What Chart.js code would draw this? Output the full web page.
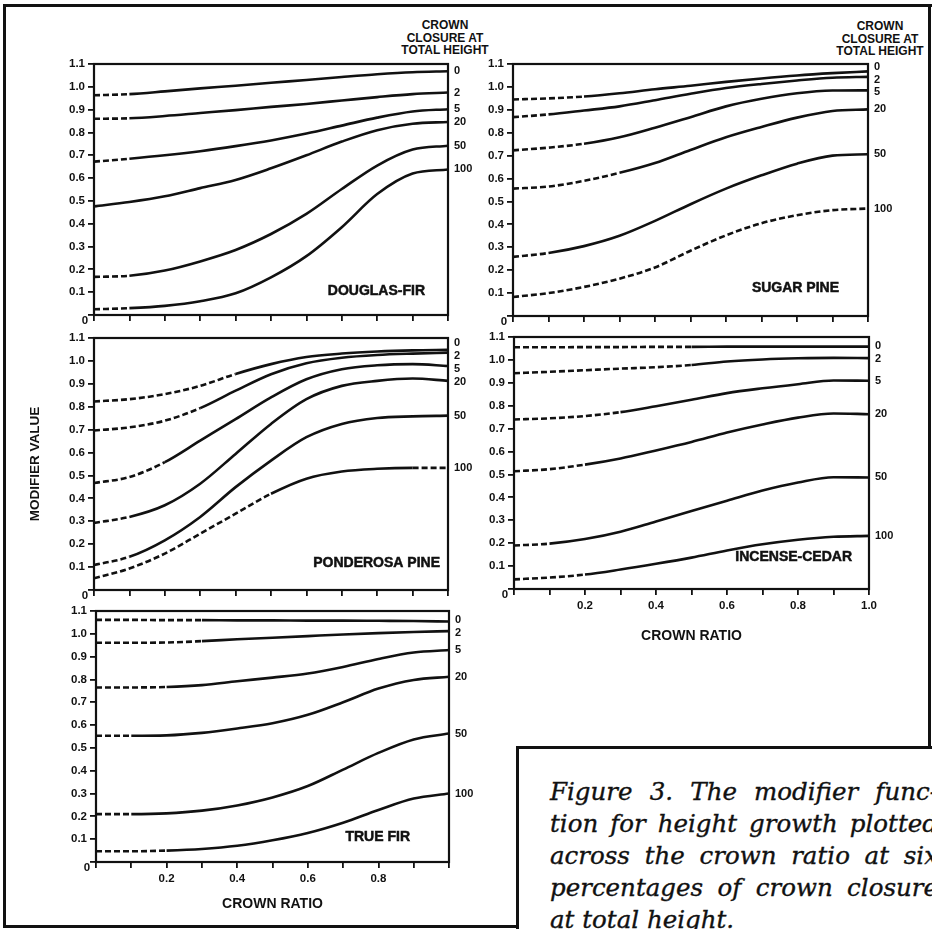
<!DOCTYPE html>
<html>
<head>
<meta charset="utf-8">
<script src="https://cdn.jsdelivr.net/npm/chart.js@4.4.1/dist/chart.umd.min.js"></script>
<style>
  html, body { margin:0; padding:0; background:#fff; width:932px; height:929px; overflow:hidden; }
  body { position:relative; font-family:'Liberation Sans', Arial, Helvetica, sans-serif; color:#111; }
  canvas { position:absolute; }
  .ln { position:absolute; background:#111; }
  .hdr { position:absolute; width:120px; text-align:center; font:bold 12px/12.5px 'Liberation Sans', Arial, sans-serif; color:#111; }
  .cap { position:absolute; left:550px; top:776px; width:388px; font-family:'DejaVu Serif', serif; font-style:italic; font-size:24.5px; color:#111; -webkit-text-stroke:0.35px #111; }
  .cap div { height:32px; line-height:32px; text-align:justify; text-align-last:justify; white-space:nowrap; overflow:visible; }
  .cap div.last { text-align:left; text-align-last:left; }
</style>
</head>
<body>
<div class="ln" style="left:3px;top:4px;width:929px;height:3px"></div>
<div class="ln" style="left:3px;top:4px;width:3px;height:924px"></div>
<div class="ln" style="left:928px;top:4px;width:3px;height:745px"></div>
<div class="ln" style="left:516px;top:746px;width:416px;height:3px"></div>
<div class="ln" style="left:516px;top:746px;width:3px;height:183px"></div>
<div class="ln" style="left:3px;top:925px;width:516px;height:3px"></div>

<div class="hdr" style="left:385px;top:19px">CROWN<br>CLOSURE AT<br>TOTAL HEIGHT</div>
<div class="hdr" style="left:820px;top:20px">CROWN<br>CLOSURE AT<br>TOTAL HEIGHT</div>

<div class="cap">
  <div>Figure 3. The modifier func-</div>
  <div>tion for height growth plotted</div>
  <div>across the crown ratio at six</div>
  <div>percentages of crown closure</div>
  <div class="last">at total height.</div>
</div>

<script>
// ---------- DATA ----------
const crownRatio = [0, 0.1, 0.2, 0.3, 0.4, 0.5, 0.6, 0.7, 0.8, 0.9, 1.0];
const closureLevels = ['0', '2', '5', '20', '50', '100'];
const yTickValues = [0, 0.1, 0.2, 0.3, 0.4, 0.5, 0.6, 0.7, 0.8, 0.9, 1.0, 1.1];
const yTickLabels = ['0', '0.1', '0.2', '0.3', '0.4', '0.5', '0.6', '0.7', '0.8', '0.9', '1.0', '1.1'];
const xTickLabelsNone = ['', '', '', '', '', '', '', '', '', '', ''];
const xTickLabelsCedar = ['', '', '0.2', '', '0.4', '', '0.6', '', '0.8', '', '1.0'];
const xTickLabelsFir = ['', '', '0.2', '', '0.4', '', '0.6', '', '0.8', '', ''];
const speciesNames = ['DOUGLAS-FIR', 'SUGAR PINE', 'PONDEROSA PINE', 'INCENSE-CEDAR', 'TRUE FIR'];

// modifier values, one row per crown-closure level (0,2,5,20,50,100)
const douglasFir = [
  [0.963, 0.968, 0.980, 0.993, 1.005, 1.018, 1.030, 1.043, 1.055, 1.064, 1.068],
  [0.860, 0.862, 0.872, 0.885, 0.898, 0.912, 0.925, 0.940, 0.955, 0.968, 0.975],
  [0.672, 0.685, 0.700, 0.718, 0.740, 0.765, 0.795, 0.830, 0.865, 0.892, 0.902],
  [0.476, 0.495, 0.520, 0.556, 0.592, 0.643, 0.700, 0.760, 0.810, 0.838, 0.846],
  [0.167, 0.172, 0.195, 0.235, 0.285, 0.355, 0.443, 0.552, 0.655, 0.725, 0.742],
  [0.025, 0.030, 0.040, 0.060, 0.095, 0.165, 0.258, 0.385, 0.530, 0.620, 0.638]
];
const sugarPine = [
  [0.945, 0.950, 0.958, 0.972, 0.990, 1.005, 1.022, 1.037, 1.050, 1.060, 1.068],
  [0.868, 0.880, 0.897, 0.915, 0.942, 0.970, 0.995, 1.013, 1.028, 1.040, 1.044],
  [0.723, 0.735, 0.752, 0.780, 0.822, 0.868, 0.915, 0.948, 0.972, 0.984, 0.985],
  [0.556, 0.565, 0.590, 0.625, 0.668, 0.725, 0.780, 0.825, 0.866, 0.895, 0.902],
  [0.258, 0.275, 0.305, 0.350, 0.415, 0.488, 0.556, 0.614, 0.665, 0.700, 0.706],
  [0.083, 0.100, 0.127, 0.163, 0.212, 0.285, 0.352, 0.405, 0.440, 0.462, 0.469]
];
const ponderosaPine = [
  [0.823, 0.833, 0.855, 0.891, 0.943, 0.986, 1.017, 1.032, 1.041, 1.046, 1.048],
  [0.696, 0.710, 0.739, 0.794, 0.870, 0.942, 0.990, 1.014, 1.026, 1.032, 1.036],
  [0.467, 0.493, 0.558, 0.652, 0.746, 0.841, 0.920, 0.964, 0.981, 0.986, 0.978],
  [0.293, 0.319, 0.370, 0.464, 0.594, 0.725, 0.833, 0.891, 0.913, 0.923, 0.913],
  [0.109, 0.145, 0.217, 0.319, 0.449, 0.565, 0.667, 0.725, 0.751, 0.758, 0.761],
  [0.051, 0.094, 0.159, 0.246, 0.333, 0.420, 0.486, 0.517, 0.529, 0.533, 0.533]
];
const incenseCedar = [
  [1.055, 1.055, 1.056, 1.056, 1.057, 1.057, 1.058, 1.058, 1.058, 1.058, 1.058],
  [0.942, 0.948, 0.955, 0.962, 0.968, 0.978, 0.993, 1.002, 1.007, 1.009, 1.008],
  [0.740, 0.745, 0.755, 0.772, 0.798, 0.826, 0.855, 0.876, 0.894, 0.910, 0.909],
  [0.514, 0.523, 0.543, 0.570, 0.605, 0.642, 0.683, 0.718, 0.748, 0.766, 0.763],
  [0.190, 0.198, 0.218, 0.250, 0.295, 0.340, 0.385, 0.430, 0.465, 0.488, 0.487],
  [0.042, 0.050, 0.063, 0.085, 0.110, 0.137, 0.168, 0.195, 0.215, 0.228, 0.232]
];
const trueFir = [
  [1.061, 1.061, 1.060, 1.060, 1.059, 1.059, 1.058, 1.058, 1.057, 1.056, 1.054],
  [0.961, 0.961, 0.962, 0.968, 0.976, 0.983, 0.990, 0.997, 1.003, 1.008, 1.012],
  [0.765, 0.765, 0.767, 0.775, 0.792, 0.808, 0.826, 0.855, 0.890, 0.918, 0.929],
  [0.553, 0.553, 0.555, 0.566, 0.585, 0.608, 0.645, 0.700, 0.760, 0.798, 0.812],
  [0.210, 0.210, 0.213, 0.225, 0.248, 0.283, 0.333, 0.405, 0.478, 0.537, 0.563],
  [0.047, 0.047, 0.050, 0.057, 0.071, 0.095, 0.127, 0.172, 0.228, 0.278, 0.300]
];

// crown-ratio range drawn solid (outside it the curve is dashed)
const douglasFirSolidFrom   = [0.11, 0.12, 0.12, 0.00, 0.09, 0.11];
const douglasFirSolidTo     = [1, 1, 1, 1, 1, 1];
const sugarPineSolidFrom    = [0.23, 0.14, 0.24, 0.34, 0.15, 1.00];
const sugarPineSolidTo      = [1, 1, 1, 1, 1, 1];
const ponderosaSolidFrom    = [0.40, 0.30, 0.21, 0.12, 0.10, 0.50];
const ponderosaSolidTo      = [1, 1, 1, 1, 1, 0.92];
const incenseCedarSolidFrom = [0.50, 0.48, 0.32, 0.20, 0.09, 0.17];
const incenseCedarSolidTo   = [1, 1, 1, 1, 1, 1];
const trueFirSolidFrom      = [0.28, 0.26, 0.21, 0.12, 0.09, 0.17];
const trueFirSolidTo        = [1, 1, 1, 1, 1, 1];

// ---------- RENDER ----------
const INK = '#111';
const FAMILY = "'Liberation Sans', Arial, Helvetica, sans-serif";

const decorPlugin = {
  id: 'decor',
  afterDraw(chart, args, opts) {
    const { ctx, chartArea: a, scales: { y } } = chart;
    ctx.save();
    ctx.strokeStyle = INK;
    ctx.lineWidth = 2.2;
    ctx.strokeRect(a.left, a.top, a.right - a.left, a.bottom - a.top);
    ctx.fillStyle = INK;
    // closure labels at curve ends, spread apart when crowded
    ctx.font = 'bold 11px ' + FAMILY;
    ctx.textBaseline = 'middle';
    ctx.textAlign = 'left';
    const ds = chart.data.datasets;
    const ends = ds.map(d => y.getPixelForValue(d.data[d.data.length - 1].y));
    const order = ends.map((v, i) => i).sort((p, q) => ends[p] - ends[q]);
    const pos = order.map(i => ends[i]);
    const GAP = 12.8;
    for (let it = 0; it < 200; it++) {
      for (let k = 1; k < pos.length; k++) {
        const d = pos[k] - pos[k - 1];
        if (d < GAP) { const s = (GAP - d) / 2; pos[k - 1] -= s; pos[k] += s; }
      }
    }
    order.forEach((i, k) => ctx.fillText(ds[i].label, a.right + 6, pos[k]));
    // species name
    ctx.font = 'bold 14px ' + FAMILY;
    ctx.textAlign = 'right';
    ctx.lineWidth = 0.5;
    ctx.fillText(opts.name, a.right - opts.nameDx, a.bottom - opts.nameDy);
    ctx.strokeText(opts.name, a.right - opts.nameDx, a.bottom - opts.nameDy);
    // origin label
    ctx.font = 'bold 11.5px ' + FAMILY;
    ctx.textAlign = 'center';
    ctx.fillText(yTickLabels[0], a.left - 9, a.bottom + 6);
    ctx.restore();
  }
};

function makePanel(cfg) {
  const { L, R, T, B, leftW, bottomH, series, solidFrom, solidTo, name, nameDx, nameDy, xLabels, xTitle, yTitle, xTitlePad } = cfg;
  const padTop = 10, padRight = 40;
  const cv = document.createElement('canvas');
  const w = (R - L) + leftW + padRight;
  const h = (B - T) + padTop + bottomH;
  cv.width = w; cv.height = h;
  cv.style.left = (L - leftW) + 'px';
  cv.style.top = (T - padTop) + 'px';
  cv.style.width = w + 'px'; cv.style.height = h + 'px';
  document.body.appendChild(cv);

  const datasets = series.map((vals, i) => ({
    label: closureLevels[i],
    data: vals.map((v, j) => ({ x: crownRatio[j], y: v })),
    borderColor: INK,
    borderWidth: 2.6,
    pointRadius: 0,
    fill: false,
    cubicInterpolationMode: 'monotone',
    borderCapStyle: 'butt',
    segment: {
      borderDash: ctx => {
        const mid = (ctx.p0.parsed.x + ctx.p1.parsed.x) / 2;
        return (mid < solidFrom[i] || mid > solidTo[i]) ? [6, 3] : undefined;
      }
    }
  }));

  new Chart(cv, {
    type: 'line',
    data: { datasets },
    options: {
      responsive: false,
      animation: false,
      devicePixelRatio: 1,
      layout: { autoPadding: false, padding: { left: 0, top: padTop, right: padRight, bottom: 0 } },
      plugins: {
        legend: { display: false },
        tooltip: { enabled: false },
        decor: { name, nameDx, nameDy }
      },
      scales: {
        x: {
          type: 'linear', min: 0, max: 1,
          afterBuildTicks: s => { s.ticks = crownRatio.map(v => ({ value: v })); },
          afterFit: s => { s.height = bottomH; },
          grid: { drawOnChartArea: false, drawTicks: true, tickLength: 6, color: INK, lineWidth: 1.8 },
          border: { display: false },
          ticks: {
            autoSkip: false, maxRotation: 0, minRotation: 0, padding: 4, color: INK,
            font: { family: FAMILY, size: 11.5, weight: 'bold' },
            callback: (v, i) => xLabels[i]
          },
          title: {
            display: !!xTitle, text: xTitle || '', color: INK,
            font: { family: FAMILY, size: 14, weight: 'bold' },
            padding: { top: 0, bottom: xTitlePad || 2 }
          }
        },
        y: {
          type: 'linear', min: 0, max: 1.1,
          afterBuildTicks: s => { s.ticks = yTickValues.map(v => ({ value: v })); },
          afterFit: s => { s.width = leftW; },
          grid: { drawOnChartArea: false, drawTicks: true, tickLength: 6, color: INK, lineWidth: 1.8 },
          border: { display: false },
          ticks: {
            autoSkip: false, padding: 3, color: INK,
            font: { family: FAMILY, size: 11.5, weight: 'bold' },
            callback: (v, i) => (i === 0 ? '' : yTickLabels[i])
          },
          title: {
            display: !!yTitle, text: yTitle || '', color: INK,
            font: { family: FAMILY, size: 13.5, weight: 'bold' },
            padding: 8
          }
        }
      }
    },
    plugins: [decorPlugin]
  });
}

makePanel({ L: 94, R: 448, T: 64, B: 315, leftW: 60, bottomH: 14, series: douglasFir,
  solidFrom: douglasFirSolidFrom, solidTo: douglasFirSolidTo, name: speciesNames[0], nameDx: 23, nameDy: 24,
  xLabels: xTickLabelsNone });
makePanel({ L: 513, R: 868, T: 64, B: 316, leftW: 60, bottomH: 14, series: sugarPine,
  solidFrom: sugarPineSolidFrom, solidTo: sugarPineSolidTo, name: speciesNames[1], nameDx: 29, nameDy: 28,
  xLabels: xTickLabelsNone });
makePanel({ L: 94, R: 448, T: 338, B: 590, leftW: 75, bottomH: 14, series: ponderosaPine,
  solidFrom: ponderosaSolidFrom, solidTo: ponderosaSolidTo, name: speciesNames[2], nameDx: 8, nameDy: 27,
  xLabels: xTickLabelsNone, yTitle: 'MODIFIER VALUE' });
makePanel({ L: 514, R: 869, T: 337, B: 589, leftW: 60, bottomH: 58, series: incenseCedar,
  solidFrom: incenseCedarSolidFrom, solidTo: incenseCedarSolidTo, name: speciesNames[3], nameDx: 17, nameDy: 32,
  xLabels: xTickLabelsCedar, xTitle: 'CROWN RATIO' });
makePanel({ L: 96, R: 449, T: 611, B: 862, leftW: 60, bottomH: 53, series: trueFir,
  solidFrom: trueFirSolidFrom, solidTo: trueFirSolidTo, name: speciesNames[4], nameDx: 39, nameDy: 25,
  xLabels: xTickLabelsFir, xTitle: 'CROWN RATIO' });
</script>
</body>
</html>
